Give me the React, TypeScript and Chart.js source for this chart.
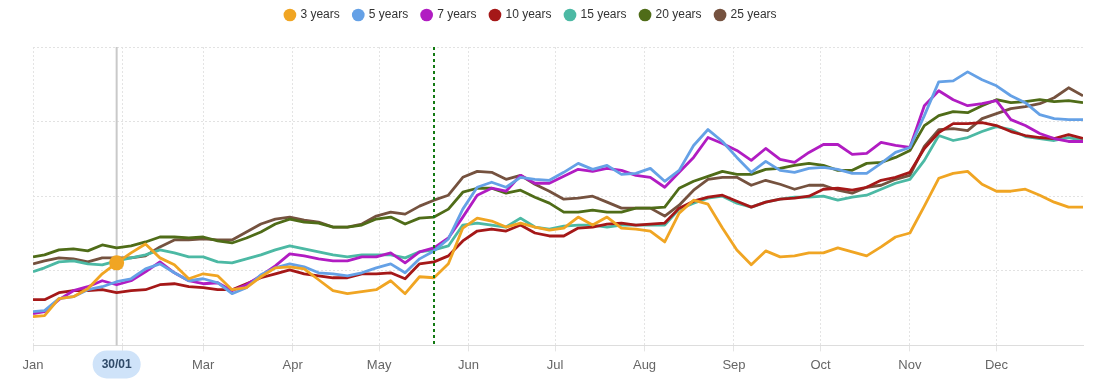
import { useEffect, useRef } from 'react';
import { Chart, registerables } from 'chart.js';

Chart.register(...registerables);

const FONT = 'Arial, "Liberation Sans", sans-serif';

// Day of year (0 = 1 Jan) of each sample
const DAYS = [0, 4, 9, 14, 19, 24, 29, 34, 39, 44, 49, 54, 59, 64, 69, 74, 79, 84, 89, 94, 99, 104, 109, 114, 119, 124, 129, 134, 139, 144, 149, 154, 159, 164, 169, 174, 179, 184, 189, 194, 199, 204, 209, 214, 219, 224, 229, 234, 239, 244, 249, 254, 259, 264, 269, 274, 279, 284, 289, 294, 299, 304, 309, 314, 319, 324, 329, 334, 339, 344, 349, 354, 359, 364];

const MONTH_START_DAYS = [0, 31, 59, 90, 120, 151, 181, 212, 243, 273, 304, 334];
const MONTH_LABELS = ['Jan', 'Feb', 'Mar', 'Apr', 'May', 'Jun', 'Jul', 'Aug', 'Sep', 'Oct', 'Nov', 'Dec'];

const SERIES_NAMES = ['3 years', '5 years', '7 years', '10 years', '15 years', '20 years', '25 years'];
const SERIES_COLORS = ['#f0a523', '#65a1e6', '#b11cc2', '#a51818', '#4cb9a4', '#4f6c18', '#75523f'];

const Y3 = [29, 30, 47, 49, 57, 72, 83, 93, 102, 88, 81, 67, 72, 70, 56, 58, 69, 78, 79, 77, 66, 55, 52, 54, 56, 65, 52, 69, 68, 82, 118, 128, 125, 119, 123, 119, 116, 118, 129, 121, 129, 118, 117, 115, 104, 133, 146, 142, 118, 96, 81, 95, 89, 90, 93, 93, 98, 94, 90, 99, 109, 113, 140, 168, 173, 175, 162, 155, 155, 157, 151, 144, 139, 139];
const Y5 = [34, 35, 47, 49, 56, 59, 64, 67, 77, 82, 73, 65, 67, 63, 52, 58, 71, 78, 82, 79, 73, 72, 70, 73, 78, 82, 73, 87, 95, 107, 137, 159, 164, 159, 169, 167, 166, 174, 183, 177, 181, 172, 173, 178, 165, 176, 201, 217, 205, 189, 174, 185, 176, 174, 178, 179, 177, 173, 173, 183, 194, 199, 231, 265, 266, 275, 267, 261, 251, 244, 232, 228, 227, 227];
const Y7 = [32, 34, 46, 55, 59, 65, 61, 65, 74, 84, 73, 65, 62, 63, 55, 61, 70, 80, 92, 90, 87, 85, 85, 89, 89, 93, 83, 94, 98, 108, 129, 151, 158, 155, 171, 163, 163, 170, 177, 175, 178, 176, 171, 169, 159, 174, 189, 209, 203, 196, 186, 198, 187, 184, 194, 202, 202, 192, 193, 204, 201, 199, 241, 256, 247, 241, 243, 246, 227, 221, 213, 208, 205, 205];
const Y10 = [46, 46, 53, 55, 55, 56, 53, 55, 56, 61, 62, 59, 58, 56, 56, 62, 68, 72, 76, 72, 70, 68, 68, 72, 72, 73, 67, 82, 84, 90, 105, 115, 117, 115, 121, 113, 110, 110, 118, 119, 122, 123, 121, 122, 123, 138, 145, 149, 151, 145, 139, 144, 147, 148, 150, 157, 158, 156, 159, 166, 169, 174, 198, 214, 223, 223, 224, 221, 215, 211, 209, 208, 212, 208];
const Y15 = [74, 78, 84, 85, 82, 81, 85, 88, 91, 96, 93, 89, 89, 84, 83, 87, 91, 96, 100, 97, 94, 91, 89, 91, 91, 91, 88, 94, 96, 100, 121, 123, 121, 119, 128, 119, 117, 120, 121, 121, 119, 121, 121, 121, 121, 137, 143, 148, 150, 143, 139, 144, 147, 149, 149, 150, 146, 149, 151, 157, 163, 167, 186, 211, 206, 209, 215, 220, 217, 210, 208, 206, 209, 206];
const Y20 = [89, 91, 96, 97, 95, 101, 98, 100, 104, 109, 109, 108, 109, 105, 103, 108, 114, 122, 127, 124, 123, 119, 119, 121, 127, 129, 122, 128, 129, 137, 154, 158, 158, 153, 156, 149, 143, 134, 134, 136, 134, 134, 138, 138, 139, 158, 165, 170, 175, 172, 172, 177, 178, 181, 183, 181, 176, 176, 183, 184, 189, 196, 221, 231, 235, 234, 241, 247, 244, 245, 247, 245, 246, 244];
const Y25 = [82, 85, 88, 87, 84, 88, 88, 88, 90, 99, 106, 106, 107, 106, 106, 114, 122, 127, 129, 126, 124, 119, 119, 122, 130, 134, 132, 140, 146, 151, 169, 175, 174, 167, 171, 162, 155, 147, 148, 150, 144, 138, 138, 138, 130, 141, 156, 167, 169, 169, 161, 166, 162, 157, 161, 161, 156, 153, 159, 161, 167, 171, 200, 217, 218, 216, 228, 233, 238, 240, 243, 249, 259, 251];

const SERIES_VALUES = [Y3, Y5, Y7, Y10, Y15, Y20, Y25];

const Y_MIN = 0;
const Y_MAX = 300;
const Y_STEP = 75;

const HOVER_DAY = 29; // 30/01
const MARKER_DAY = 139; // dotted reference line

const LEGEND_DX = -27;
const LEGEND_DY = 16;
const TOP_PAD = 11;

function dayLabel(day: number) {
  const d = new Date(2023, 0, 1 + day);
  const dd = String(d.getDate()).padStart(2, '0');
  const mm = String(d.getMonth() + 1).padStart(2, '0');
  return `${dd}/${mm}`;
}

const legendNudge = {
  id: 'legendNudge',
  afterLayout(chart: any) {
    const lg = chart.legend;
    if (!lg) return;
    lg.left += LEGEND_DX;
    lg.right += LEGEND_DX;
    lg.top -= LEGEND_DY;
    lg.bottom -= LEGEND_DY;
  },
};

const overlays = {
  id: 'overlays',
  beforeDatasetsDraw(chart: any) {
    const { ctx, chartArea, scales } = chart;
    const x = scales.x.getPixelForValue(HOVER_DAY);
    ctx.save();
    ctx.strokeStyle = '#c9c9c9';
    ctx.lineWidth = 2;
    ctx.beginPath();
    ctx.moveTo(x, chartArea.top);
    ctx.lineTo(x, chartArea.bottom);
    ctx.stroke();
    ctx.restore();
  },
  afterDatasetsDraw(chart: any) {
    const { ctx, chartArea, scales } = chart;
    const x = Math.round(scales.x.getPixelForValue(MARKER_DAY));
    ctx.save();
    ctx.strokeStyle = '#137a13';
    ctx.lineWidth = 2;
    ctx.setLineDash([3, 3]);
    ctx.beginPath();
    ctx.moveTo(x, chartArea.top);
    ctx.lineTo(x, chartArea.bottom);
    ctx.stroke();
    ctx.restore();
  },
  afterDraw(chart: any) {
    const { ctx, chartArea, scales } = chart;
    const cx = scales.x.getPixelForValue(HOVER_DAY);
    const cy = chartArea.bottom + 19;
    const w = 48;
    const h = 28;
    ctx.save();
    ctx.fillStyle = '#cfe3f9';
    ctx.beginPath();
    ctx.roundRect(cx - w / 2, cy - h / 2, w, h, h / 2);
    ctx.fill();
    ctx.fillStyle = '#2f4a68';
    ctx.font = `bold 12px ${FONT}`;
    ctx.textAlign = 'center';
    ctx.textBaseline = 'middle';
    ctx.fillText(dayLabel(HOVER_DAY), cx, cy + 0.5);
    ctx.restore();
  },
};

export default function App() {
  const ref = useRef<HTMLCanvasElement>(null);

  useEffect(() => {
    const canvas = ref.current;
    if (!canvas) return;
    const hoverIndex = DAYS.indexOf(HOVER_DAY);

    const chart = new Chart(canvas, {
      type: 'line',
      data: {
        datasets: SERIES_NAMES.map((name, si) => ({
          label: name,
          data: DAYS.map((d, i) => ({ x: d, y: SERIES_VALUES[si][i] })),
          borderColor: SERIES_COLORS[si],
          backgroundColor: SERIES_COLORS[si],
          borderWidth: 2.8,
          borderJoinStyle: 'round',
          tension: 0,
          fill: false,
          pointRadius: (c: any) => (si === 0 && c.dataIndex === hoverIndex ? 7.5 : 0),
          pointHoverRadius: 0,
          pointBorderWidth: 0,
          pointBackgroundColor: SERIES_COLORS[si],
        })),
      },
      options: {
        responsive: true,
        maintainAspectRatio: false,
        animation: false,
        events: [],
        layout: { padding: { left: 33, right: 16, top: TOP_PAD, bottom: 2 } },
        plugins: {
          legend: {
            position: 'top',
            align: 'center',
            labels: {
              usePointStyle: true,
              pointStyle: 'circle',
              boxWidth: 9,
              boxHeight: 9,
              padding: 14,
              color: '#333333',
              font: { family: FONT, size: 12 },
              generateLabels: (ch: any) =>
                (Chart.defaults.plugins.legend.labels.generateLabels as any)(ch).map((l: any) => ({
                  ...l,
                  lineWidth: 0,
                  pointStyle: 'circle',
                })),
            },
          },
          tooltip: { enabled: false },
        },
        scales: {
          x: {
            type: 'linear',
            min: DAYS[0],
            max: DAYS[DAYS.length - 1],
            afterBuildTicks: (s: any) => {
              s.ticks = MONTH_START_DAYS.map((v) => ({ value: v }));
            },
            ticks: {
              autoSkip: false,
              maxRotation: 0,
              padding: 6,
              color: '#666666',
              font: { family: FONT, size: 13 },
              callback: (v: any) => {
                const idx = MONTH_START_DAYS.indexOf(Number(v));
                if (Math.abs(Number(v) - HOVER_DAY) < 8) return '';
                return MONTH_LABELS[idx];
              },
            },
            grid: {
              color: '#e4e4e4',
              lineWidth: 1,
              drawTicks: true,
              tickLength: 6,
              tickColor: '#e4e4e4',
            },
            border: { display: true, color: '#dddddd', width: 1, dash: [2, 2] },
          },
          y: {
            min: Y_MIN,
            max: Y_MAX,
            ticks: { display: false, stepSize: Y_STEP },
            grid: { color: '#e2e2e2', drawTicks: false },
            border: { display: false, dash: [2, 2] },
          },
        },
      },
      plugins: [legendNudge, overlays],
    } as any);

    return () => chart.destroy();
  }, []);

  return (
    <div style={{ position: 'absolute', left: 0, top: 0, width: 1099, height: 381 }}>
      <canvas ref={ref} />
    </div>
  );
}
